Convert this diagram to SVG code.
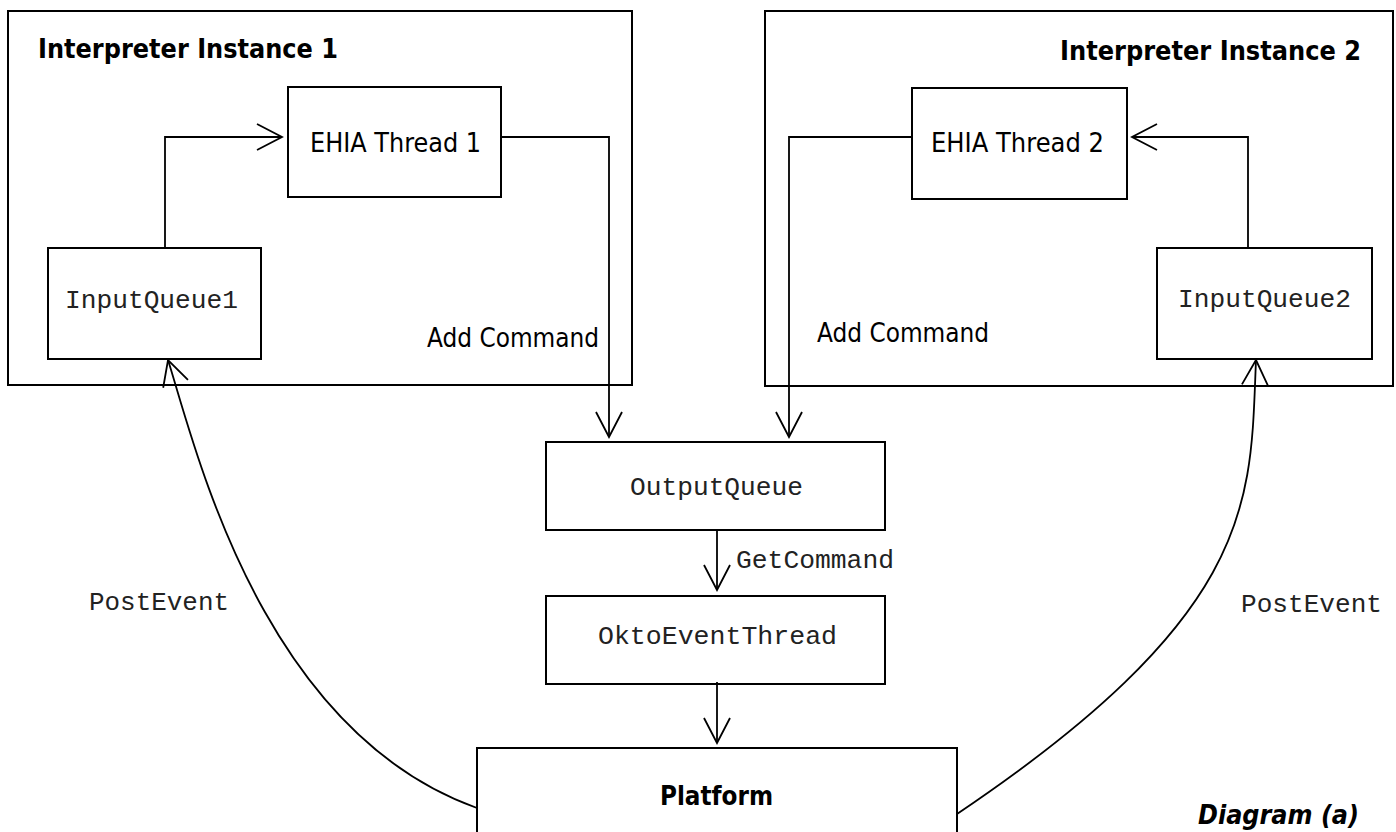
<svg xmlns="http://www.w3.org/2000/svg" width="1396" height="832" viewBox="0 0 1396 832">
<defs>
<style>
.box{fill:none;stroke:#000;stroke-width:2}
.ln{fill:none;stroke:#000;stroke-width:1.8}
.sans{font-family:"DejaVu Sans Condensed","DejaVu Sans",sans-serif;font-size:26px;fill:#000}
.bold{font-family:"DejaVu Sans Condensed","DejaVu Sans",sans-serif;font-size:26px;font-weight:bold;fill:#000}
.mono{font-family:"Liberation Mono","Courier New",monospace;font-size:26px;fill:#222}
</style>
<marker id="arr" markerUnits="userSpaceOnUse" markerWidth="40" markerHeight="40" viewBox="-30 -20 40 40" refX="0" refY="0" orient="auto">
<path d="M-25,-13 L0,0 L-25,13" fill="none" stroke="#000" stroke-width="1.8"/>
</marker>
</defs>
<rect width="1396" height="832" fill="#fff"/>

<g id="instance1">
<rect class="box" x="8" y="11" width="624" height="374"/>
<text class="bold" x="38" y="58" textLength="300" lengthAdjust="spacingAndGlyphs">Interpreter Instance 1</text>
</g>
<g id="instance2">
<rect class="box" x="765" y="11" width="628" height="375"/>
<text class="bold" x="1060" y="60" textLength="301" lengthAdjust="spacingAndGlyphs">Interpreter Instance 2</text>
</g>
<g id="ehia1">
<rect class="box" x="288" y="87" width="213" height="110"/>
<text class="sans" x="310" y="152" textLength="171" lengthAdjust="spacingAndGlyphs">EHIA Thread 1</text>
</g>
<g id="ehia2">
<rect class="box" x="912" y="88" width="215" height="111"/>
<text class="sans" x="931" y="152" textLength="173" lengthAdjust="spacingAndGlyphs">EHIA Thread 2</text>
</g>
<g id="inputqueue1">
<rect class="box" x="48" y="248" width="213" height="111"/>
<text class="mono" x="65" y="308" textLength="173" lengthAdjust="spacingAndGlyphs">InputQueue1</text>
</g>
<g id="inputqueue2">
<rect class="box" x="1157" y="248" width="215" height="111"/>
<text class="mono" x="1178" y="307" textLength="173" lengthAdjust="spacingAndGlyphs">InputQueue2</text>
</g>
<g id="outputqueue">
<rect class="box" x="546" y="442" width="339" height="88"/>
<text class="mono" x="630" y="495" textLength="173" lengthAdjust="spacingAndGlyphs">OutputQueue</text>
</g>
<g id="oktoeventthread">
<rect class="box" x="546" y="596" width="339" height="88"/>
<text class="mono" x="598" y="644" textLength="239" lengthAdjust="spacingAndGlyphs">OktoEventThread</text>
</g>
<g id="platform">
<rect class="box" x="477" y="748" width="480" height="100"/>
<text class="bold" x="660" y="805" textLength="113" lengthAdjust="spacingAndGlyphs">Platform</text>
</g>

<g id="connectors">
<path class="ln" d="M165,248 V137 H282" marker-end="url(#arr)"/>
<path class="ln" d="M1248,248 V137 H1132" marker-end="url(#arr)"/>
<path class="ln" d="M501,137 H609 V437" marker-end="url(#arr)"/>
<path class="ln" d="M912,137 H789 V437" marker-end="url(#arr)"/>
<path class="ln" d="M717,530 V590" marker-end="url(#arr)"/>
<path class="ln" d="M717,682 V743" marker-end="url(#arr)"/>
<path class="ln" d="M477,808 C260,730 195,445 168,360" marker-end="url(#arr)"/>
<path class="ln" d="M957,814 C1260,610 1250,500 1256,360" marker-end="url(#arr)"/>
</g>

<g id="labels">
<text class="sans" x="427" y="347" textLength="172" lengthAdjust="spacingAndGlyphs">Add Command</text>
<text class="sans" x="817" y="342" textLength="172" lengthAdjust="spacingAndGlyphs">Add Command</text>
<text class="mono" x="736" y="568" textLength="158" lengthAdjust="spacingAndGlyphs">GetCommand</text>
<text class="mono" x="89" y="610" textLength="140" lengthAdjust="spacingAndGlyphs">PostEvent</text>
<text class="mono" x="1241" y="612" textLength="141" lengthAdjust="spacingAndGlyphs">PostEvent</text>
<text class="bold" x="1198" y="824" font-style="italic" textLength="161" lengthAdjust="spacingAndGlyphs">Diagram (a)</text>
</g>
</svg>
